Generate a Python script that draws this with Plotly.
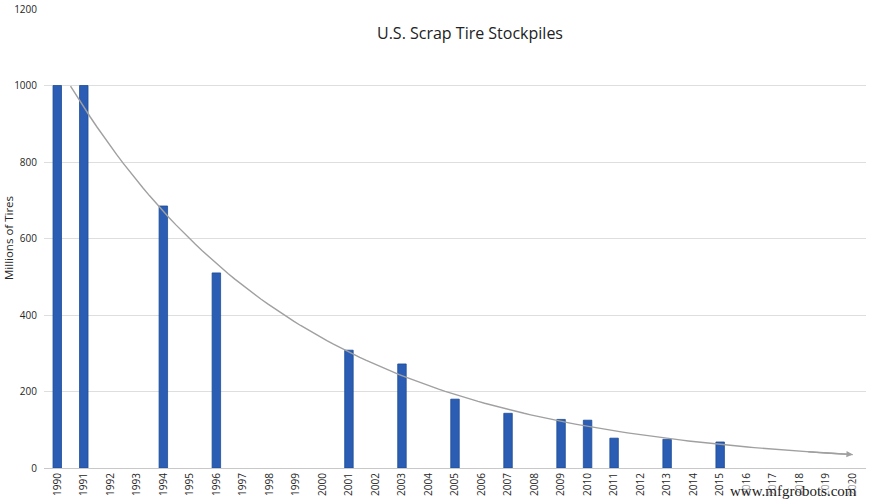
import numpy as np
import plotly.graph_objects as go

years = list(range(1990, 2021))
bar_years = [1990, 1991, 1994, 1996, 2001, 2003, 2005, 2007, 2009, 2010, 2011, 2013, 2015]
stockpiles = [1000, 1000, 685, 510, 308, 272, 180, 143, 127, 125, 78, 75, 68]
y_ticks = [0, 200, 400, 600, 800, 1000, 1200]

# Exponential trendline fitted to the data (as in the spreadsheet chart)
bx = np.array(bar_years, dtype=float)
by = np.array(stockpiles, dtype=float)
slope, intercept = np.polyfit(bx - 1990, np.log(by), 1)
tx = np.linspace(1990.5, 2020, 120)
ty = np.exp(intercept + slope * (tx - 1990))

fig = go.Figure()
fig.add_trace(go.Bar(
    x=bar_years, y=stockpiles, width=0.32,
    marker=dict(color="#2A5DB3", line=dict(color="#1E4C96", width=0.8)),
    showlegend=False,
))
fig.add_trace(go.Scatter(
    x=tx, y=ty, mode="lines",
    line=dict(color="#A0A0A0", width=1.4),
    showlegend=False, hoverinfo="skip",
))
fig.add_annotation(
    x=tx[-1], y=ty[-1], ax=tx[-8], ay=ty[-8],
    xref="x", yref="y", axref="x", ayref="y",
    showarrow=True, arrowhead=2, arrowsize=0.9, arrowwidth=1.4,
    arrowcolor="#A0A0A0", text="",
)
fig.add_annotation(
    text="Millions of Tires", xref="paper", yref="paper",
    x=(8.5 - 44) / 822, y=0.5, xanchor="center", yanchor="middle",
    textangle=-90, showarrow=False,
    font=dict(size=11.5, color="#262626"),
)
fig.add_annotation(
    text="www.mfgrobots.com", xref="paper", yref="paper",
    x=(858 - 44) / 822, y=-32 / 459, xanchor="right", yanchor="bottom", showarrow=False,
    font=dict(family="Liberation Serif, DejaVu Serif, serif", size=15, color="#222222"),
    bgcolor="rgba(255,255,255,0.55)", borderpad=0,
)

fig.update_layout(
    width=870, height=500,
    margin=dict(l=44, r=4, t=9, b=32, autoexpand=False),
    paper_bgcolor="white", plot_bgcolor="white",
    font=dict(family="Open Sans, Noto Sans, sans-serif", color="#404040"),
    title=dict(text="U.S. Scrap Tire Stockpiles", x=470 / 870, xref="container",
               y=1 - 33 / 500, yref="container", yanchor="middle", xanchor="center",
               font=dict(size=16, color="#222222")),
)
fig.update_xaxes(
    range=[1989.5, 2020.5], tickmode="array", tickvals=years,
    ticktext=[str(y) for y in years], tickangle=-90,
    tickfont=dict(size=10, color="#262626"), showgrid=False,
    showline=True, linecolor="#C8C8C8", linewidth=1, ticks="",
    automargin=False, zeroline=False,
)
fig.update_yaxes(
    range=[0, 1200], tickmode="array", tickvals=y_ticks,
    tickfont=dict(size=10, color="#262626"),
    showgrid=True, gridcolor="#DEDEDE", gridwidth=1, zeroline=False,
    automargin=False, ticks="", ticklabelstandoff=6,
)
fig.write_html(
    "out.html",
    config={"displayModeBar": False},
    post_script="document.body.style.margin='0';document.body.style.padding='0';",
)
